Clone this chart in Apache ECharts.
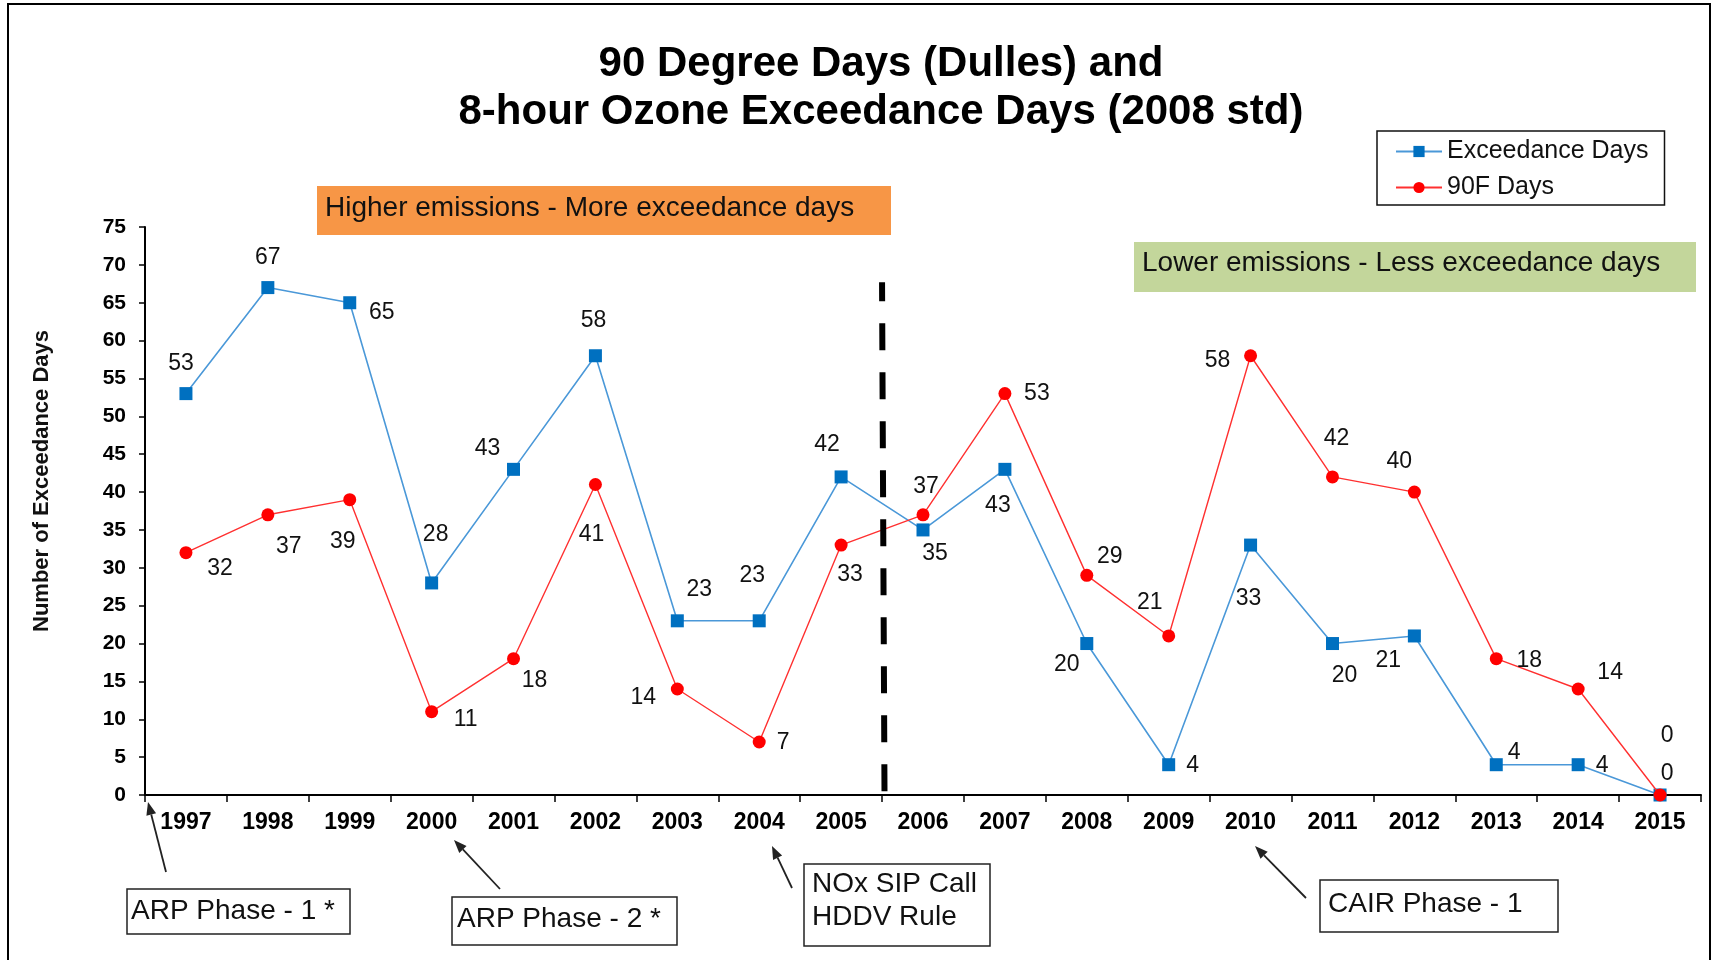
<!DOCTYPE html>
<html>
<head>
<meta charset="utf-8">
<script src="https://cdn.jsdelivr.net/npm/echarts@6/dist/echarts.min.js"></script>
<style>
html,body{margin:0;padding:0;background:#fff;}
#c{width:1715px;height:960px;}
</style>
</head>
<body>
<div id="c"></div>
<script>
// ---- data ----
const years = ['1997','1998','1999','2000','2001','2002','2003','2004','2005','2006','2007','2008','2009','2010','2011','2012','2013','2014','2015'];
const exceedanceDays = [53,67,65,28,43,58,23,23,42,35,43,20,4,33,20,21,4,4,0];
const hotDays90F = [32,37,39,11,18,41,14,7,33,37,53,29,21,58,42,40,18,14,0];
const yTicksMin = 0, yTicksMax = 75, yTickStep = 5;

// ---- label placement (pixel offsets from each point) ----
const blueLabelOffsets = [[-5,-30],[0,-30],[32,10],[4,-48],[-26,-21],[-2,-35],[22,-31],[-7,-45],[-14,-32],[12,24],[-7,36],[-20,21],[24,1],[-2,54],[12,32],[-26,25],[18,-12],[24,1],[7,-21]];
const redLabelOffsets = [[34,16],[21,32],[-7,42],[34,8],[21,22],[-4,50],[-34,9],[24,1],[9,30],[3,-28],[32,0],[23,-19],[-19,-33],[-33,5],[4,-38],[-15,-30],[33,2],[32,-16],[7,-59]];

const FONT = '"Liberation Sans", Arial, sans-serif';
const chart = echarts.init(document.getElementById('c'), null, {renderer:'canvas'});

function arrow(x1,y1,x2,y2){
  const ang = Math.atan2(y2-y1, x2-x1);
  const L = 13, W = 5;
  const bx = x2 - L*Math.cos(ang), by = y2 - L*Math.sin(ang);
  const px = -Math.sin(ang)*W, py = Math.cos(ang)*W;
  return [
    {type:'line', shape:{x1:x1,y1:y1,x2:bx,y2:by}, style:{stroke:'#222', lineWidth:1.8}},
    {type:'polygon', shape:{points:[[x2,y2],[bx+px,by+py],[bx-px,by-py]]}, style:{fill:'#222'}}
  ];
}
function box(x,y,w,h,fill,stroke){
  return {type:'rect', shape:{x:x,y:y,width:w,height:h}, style:{fill:fill||'#fff', stroke:stroke||'none', lineWidth:1.5}};
}
function txt(t,x,y,size,opts){
  opts = opts||{};
  return Object.assign({type:'text', x:x, y:y, style:{text:t, fill:'#111', font:(opts.bold?'bold ':'')+size+'px '+FONT, align:opts.align||'left', verticalAlign:'middle', textAlign:opts.align||'left', textVerticalAlign:'middle'}}, opts.extra||{});
}

const graphics = [
  {type:'rect', shape:{x:8,y:4,width:1702,height:1000}, style:{fill:'none', stroke:'#000', lineWidth:2}, z:-1},
  box(317,186,574,49,'#F79646'),
  txt('Higher emissions - More exceedance days',325,208,28),
  box(1134,242,562,50,'#C3D69B'),
  txt('Lower emissions - Less exceedance days',1142,263,28),
  txt('Number of Exceedance Days',42,481,22,{bold:true,align:'center',extra:{rotation:Math.PI/2}}),
  box(127,889,223,45,'#fff','#222'),
  txt('ARP Phase - 1 *',131,911,28),
  box(452,897,225,48,'#fff','#222'),
  txt('ARP Phase - 2 *',457,919,28),
  box(804,864,186,82,'#fff','#222'),
  txt('NOx SIP Call',812,884,28),
  txt('HDDV Rule',812,917,28),
  box(1320,880,238,52,'#fff','#222'),
  txt('CAIR Phase - 1',1328,904,28)
].concat(arrow(166,872,148,802), arrow(500,889,454,840), arrow(792,888,772,846), arrow(1306,898,1255,846));

const labelBase = {show:true, position:'inside', fontSize:23, fontFamily:FONT, color:'#111', formatter:'{c}'};

const option = {
  animation:false,
  backgroundColor:'#fff',
  textStyle:{fontFamily:FONT},
  title:{
    text:'90 Degree Days (Dulles) and\n8-hour Ozone Exceedance Days (2008 std)',
    left:876, top:35, textAlign:'center',
    textStyle:{fontSize:42, fontWeight:'bold', color:'#000', lineHeight:48, fontFamily:FONT}
  },
  legend:{
    orient:'vertical', left:1377, top:131,
    padding:[8,16,5,18], itemGap:11, itemWidth:46, itemHeight:14,
    borderColor:'#111', borderWidth:1.5, backgroundColor:'#fff',
    textStyle:{fontSize:25, color:'#111', fontFamily:FONT},
    data:['Exceedance Days','90F Days']
  },
  grid:{left:145, right:14, top:227, bottom:165},
  xAxis:[
    {type:'category', data:years, boundaryGap:true,
     axisLine:{lineStyle:{color:'#000', width:2}},
     axisTick:{show:true, length:7, lineStyle:{color:'#000', width:1.5}},
     axisLabel:{fontSize:23, fontWeight:'bold', color:'#000', margin:16, interval:0}},
    {type:'value', min:0, max:19, show:false}
  ],
  yAxis:{
    type:'value', min:yTicksMin, max:yTicksMax, interval:yTickStep,
    splitLine:{show:false},
    axisLine:{show:true, lineStyle:{color:'#000', width:2}},
    axisTick:{show:true, length:6, lineStyle:{color:'#000', width:1.5}},
    axisLabel:{fontSize:21, fontWeight:'bold', color:'#000', margin:19}
  },
  series:[
    {name:'Exceedance Days', type:'line', xAxisIndex:0,
     symbol:'rect', symbolSize:13,
     itemStyle:{color:'#0070C0'},
     lineStyle:{color:'#4A98D8', width:1.6},
     label:labelBase,
     data:exceedanceDays.map((v,i)=>({value:v, label:{offset:blueLabelOffsets[i]}})),
     z:3},
    {name:'90F Days', type:'line', xAxisIndex:0,
     symbol:'circle', symbolSize:13,
     itemStyle:{color:'#FF0000'},
     lineStyle:{color:'#FF3030', width:1.4},
     label:labelBase,
     data:hotDays90F.map((v,i)=>({value:v, label:{offset:redLabelOffsets[i]}})),
     z:4},
    {name:'divider', type:'line', xAxisIndex:1, yAxisIndex:0, data:[], silent:true,
     markLine:{symbol:'none', silent:true, label:{show:false},
       lineStyle:{color:'#000', width:6, type:[27,22], dashOffset:8, cap:'butt'},
       data:[[{coord:[9,67.7]},{coord:[9.03,0]}]]}}
  ],
  graphic:graphics
};
chart.setOption(option);
</script>
</body>
</html>
